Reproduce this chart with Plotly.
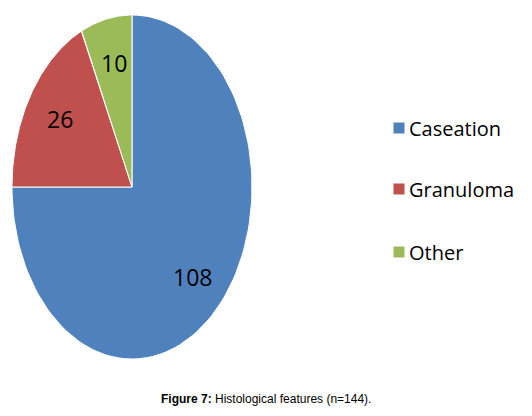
import numpy as np
import plotly.graph_objects as go

categories = ["Caseation", "Granuloma", "Other"]
values = [108, 26, 10]
colors = ["#4F81BD", "#C0504D", "#9BBB59"]

dx, dy = -8, -7
cx, cy, rx, ry = 132 + dx, 186 + dy, 120, 172
fig = go.Figure()
total = sum(values)
start = 0.0
for cat, v, c in zip(categories, values, colors):
    end = start + v / total * 360
    th = np.radians(np.linspace(start, end, 120))
    xs = np.concatenate([[cx], cx + rx * np.sin(th), [cx]])
    ys = np.concatenate([[cy], cy - ry * np.cos(th), [cy]])
    fig.add_trace(go.Scatter(x=xs, y=ys, fill="toself", fillcolor=c, mode="lines",
                             line=dict(color="white", width=1), hoverinfo="skip"))
    mid = np.radians((start + end) / 2)
    fig.add_annotation(x=cx + 0.71 * rx * np.sin(mid), y=cy - 0.74 * ry * np.cos(mid),
                       text=str(v), showarrow=False,
                       font=dict(family="Open Sans", size=23, color="black"))
    start = end

leg_y = [127 + dy, 188 + dy, 251 + dy]
fig.add_trace(go.Scatter(x=[399 + dx] * 3, y=leg_y, mode="markers",
                         marker=dict(symbol="square", size=11, color=colors), hoverinfo="skip"))
for cat, y in zip(categories, leg_y):
    fig.add_annotation(x=407 + dx, y=y, text=cat, showarrow=False, xanchor="left",
                       font=dict(family="Open Sans", size=20, color="black"))

fig.add_annotation(x=266 + dx, y=398 + dy, text="<b>Figure 7:</b> Histological features (n=144).",
                   showarrow=False, font=dict(family="Liberation Sans", size=12, color="black"))

fig.update_layout(width=532, height=416, margin=dict(l=0, r=0, t=0, b=0),
                  plot_bgcolor="white", paper_bgcolor="white", showlegend=False,
                  xaxis=dict(range=[0, 532], visible=False, fixedrange=True),
                  yaxis=dict(range=[416, 0], visible=False, fixedrange=True))
fig.write_html("out.html")
